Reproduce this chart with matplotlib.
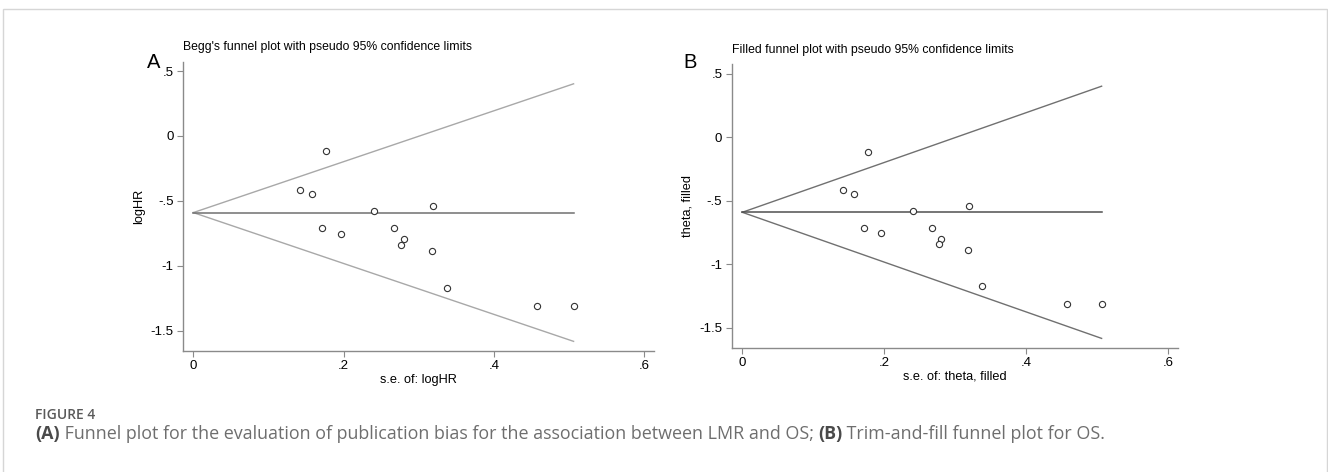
import matplotlib
matplotlib.use("Agg")
import matplotlib.pyplot as plt
from matplotlib.patches import Rectangle
import numpy as np

# study-level data
se = [0.142, 0.158, 0.1766, 0.1717, 0.196, 0.240, 0.2675,
      0.280, 0.2768, 0.3194, 0.3176, 0.3376, 0.4574, 0.506]
log_hr = [-0.416, -0.445, -0.116, -0.712, -0.753, -0.578, -0.712,
          -0.797, -0.843, -0.542, -0.889, -1.170, -1.308, -1.308]
pooled = -0.59

x_ticks = [0, 0.2, 0.4, 0.6]
x_tick_labels = ["0", ".2", ".4", ".6"]
y_ticks = [-1.5, -1, -0.5, 0, 0.5]
y_tick_labels = ["-1.5", "-1", "-.5", "0", ".5"]

W, H = 1328, 472
fig = plt.figure(figsize=(W / 100, H / 100), dpi=100)
plt.rcParams['font.family'] = ['Liberation Sans', 'DejaVu Sans']


def px_axes(left, top, right, bottom):
    return fig.add_axes([left / W, 1 - bottom / H, (right - left) / W, (bottom - top) / H])


def funnel(ax, title, xlabel, ylabel, xlim, ylim, cl_color, mid_color, letter, letter_xy, title_xy):
    s_max = np.max(se)
    ax.plot([0, s_max], [pooled, pooled + 1.96 * s_max], color=cl_color, lw=1.0)
    ax.plot([0, s_max], [pooled, pooled - 1.96 * s_max], color=cl_color, lw=1.0)
    ax.plot([0, s_max], [pooled, pooled], color=mid_color, lw=1.1)
    ax.scatter(se, log_hr, s=20, facecolors='white', edgecolors='#333333',
               linewidths=0.8, zorder=3)
    ax.set_xlim(*xlim)
    ax.set_ylim(*ylim)
    for side in ['top', 'right']:
        ax.spines[side].set_visible(False)
    for side in ['left', 'bottom']:
        ax.spines[side].set_color('#8a8a8a')
        ax.spines[side].set_linewidth(1.0)
    ax.set_xticks(x_ticks)
    ax.set_xticklabels(x_tick_labels)
    ax.set_yticks(y_ticks)
    ax.set_yticklabels(y_tick_labels)
    ax.tick_params(direction='out', length=4.3, width=0.8, color='#8a8a8a',
                   labelsize=9.5, pad=2.5, labelcolor='black')
    ax.set_xlabel(xlabel, fontsize=9.2, labelpad=1)
    ax.set_ylabel(ylabel, fontsize=9.2, labelpad=4)
    fig.text(title_xy[0] / W, 1 - title_xy[1] / H, title, fontsize=8.8,
             ha='left', va='center')
    fig.text(letter_xy[0] / W, 1 - letter_xy[1] / H, letter, fontsize=14.5,
             ha='center', va='center')


axA = px_axes(183.3, 61.7, 654.3, 351)
funnel(axA, "Begg's funnel plot with pseudo 95% confidence limits",
       "s.e. of: logHR", "logHR", (-0.0133, 0.6134), (-1.656, 0.572),
       '#a8a8a8', '#707070', 'A', (154, 63), (183.3, 46.7))

axB = px_axes(731.7, 64.3, 1178.3, 347.7)
funnel(axB, "Filled funnel plot with pseudo 95% confidence limits",
       "s.e. of: theta, filled", "theta, filled", (-0.0149, 0.614), (-1.655, 0.574),
       '#707070', '#505050', 'B', (690, 62), (732.3, 50))

# card frame
fig.patches.append(Rectangle((3.5 / W, -0.1), (1327 - 3.5) / W, 1.1 - 9 / H,
                             transform=fig.transFigure, fill=False,
                             edgecolor='#d6d6d6', lw=1.0))

# caption, pieces laid out one after another
cap_font = ['Open Sans', 'DejaVu Sans']
fig.text(35 / W, 1 - 415 / H, "FIGURE 4", fontsize=10, color='#5a5a5a',
         fontweight='semibold', family=cap_font, va='center')
pieces = [("(A)", 'bold', '#4a4a4a'),
          (" Funnel plot for the evaluation of publication bias for the association between LMR and OS; ", 'normal', '#6e6e6e'),
          ("(B)", 'bold', '#4a4a4a'),
          (" Trim-and-fill funnel plot for OS.", 'normal', '#6e6e6e')]
renderer = fig.canvas.get_renderer()
x_cur = 35 / W
for txt, wt, col in pieces:
    t = fig.text(x_cur, 1 - 434 / H, txt, fontsize=12.9, color=col,
                 fontweight=wt, family=cap_font, va='center')
    x_cur = t.get_window_extent(renderer).x1 / W

fig.savefig("out.png", dpi=100)
